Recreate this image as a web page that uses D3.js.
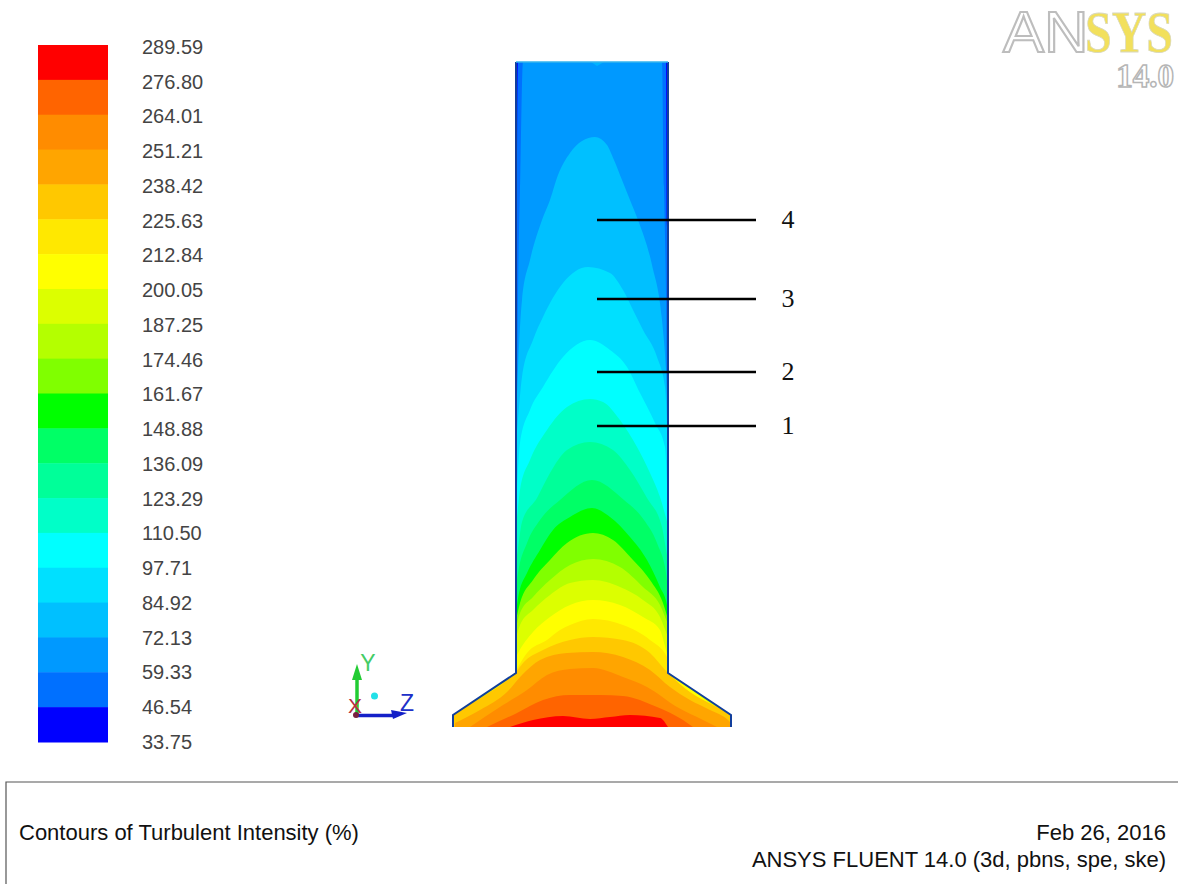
<!DOCTYPE html>
<html>
<head>
<meta charset="utf-8">
<script src="https://d3js.org/d3.v7.min.js"></script>
<style>
    html, body { margin: 0; padding: 0; background: #fff; }
    svg { display: block; }
    text { font-family: "Liberation Sans", Arial, sans-serif; }
</style>
</head>
<body>
<div id="chart-area"></div>
<script>
// legend, top to bottom
const legendLabels = ["289.59", "276.80", "264.01", "251.21", "238.42", "225.63", "212.84", "200.05", "187.25", "174.46", "161.67", "148.88", "136.09", "123.29", "110.50", "97.71", "84.92", "72.13", "59.33", "46.54", "33.75"];
const legendColors = ["#ff0000", "#ff6400", "#ff8c00", "#ffa500", "#ffc800", "#ffe800", "#ffff00", "#dcff00", "#b4ff00", "#80ff00", "#00ff00", "#00ff66", "#00ff99", "#00ffc8", "#00ffff", "#00e0ff", "#00c0ff", "#0099ff", "#0070ff", "#0000ff"];

// duct outline, [z, height above the outlet]
const duct = [[-139, 0], [-139, 12], [-76, 54], [-76, 665], [76, 665], [76, 54], [139, 12], [139, 0]];

// contour edges, [z, height], named by lower level
const band46 = [[-76, 250], [-75, 500], [-74, 665], [74, 665], [75, 500], [76, 250]];
const band59 = [[-76, 200], [-74, 430], [-72, 540], [-69, 665], [70, 665], [72, 540], [74, 430], [76, 200]];
const band72 = [[-76, 307], [-74, 357], [-70, 427], [-62, 467], [-50, 507], [-42, 527], [-34, 552], [-22, 574], [-10, 586], [3, 590], [15, 582], [22, 567], [30, 547], [38, 527], [46, 507], [60, 462], [70, 407], [74, 357], [76, 307]];
const band85 = [[-76, 287], [-70, 350], [-59, 387], [-49, 410], [-29, 444], [-4, 460], [18, 454], [31, 437], [41, 417], [51, 397], [65, 370], [73, 340], [76, 287]];
const band97 = [[-76, 227], [-72, 284], [-62, 317], [-49, 340], [-29, 370], [-2, 387], [18, 377], [35, 360], [48, 334], [63, 304], [73, 280], [76, 227]];
const band110 = [[-76, 202], [-72, 237], [-62, 267], [-45, 297], [-25, 320], [-2, 328], [11, 325], [28, 307], [45, 280], [58, 254], [68, 230], [76, 202]];
const band123 = [[-75, 172], [-70, 205], [-55, 229], [-42, 254], [-25, 277], [-2, 285], [21, 277], [38, 257], [55, 229], [70, 200], [75, 172]];
const band136 = [[-76, 140], [-74, 154], [-65, 184], [-52, 207], [-32, 227], [0, 247], [32, 227], [52, 207], [65, 184], [74, 154], [76, 140]];
const band148 = [[-76, 118], [-73, 134], [-65, 154], [-52, 177], [-39, 197], [-22, 210], [0, 219], [18, 210], [38, 190], [55, 167], [68, 140], [75, 122], [76, 115]];
const band161 = [[-76, 108], [-72, 124], [-59, 147], [-42, 167], [-25, 184], [1, 194], [21, 187], [41, 167], [58, 147], [71, 124], [76, 108]];
const band174 = [[-76, 100], [-72, 114], [-59, 130], [-42, 147], [-22, 162], [1, 168], [28, 160], [51, 140], [68, 122], [76, 103]];
const band187 = [[-76, 90], [-72, 102], [-59, 117], [-42, 132], [-22, 144], [1, 147], [28, 140], [51, 127], [68, 110], [76, 90]];
const band200 = [[-76, 70], [-74, 74], [-59, 95], [-42, 110], [-22, 122], [1, 127], [28, 122], [51, 110], [68, 97], [76, 72]];
const band212 = [[-78, 53], [-74, 60], [-65, 74], [-45, 87], [-32, 97], [-22, 102], [1, 108], [31, 102], [58, 87], [75, 70], [78, 53]];
const band225 = [[-105, 33], [-90, 43], [-76, 55], [-69, 64], [-49, 77], [-22, 87], [1, 90], [31, 87], [58, 74], [75, 55], [98, 35], [121, 22]];
const band238 = [[-137, 4], [-112, 17], [-85, 35], [-70, 52], [-52, 67], [-25, 74], [1, 75], [31, 70], [58, 57], [78, 40], [98, 27], [118, 17], [136, 7], [139, 4]];
const band251 = [[-122, 0], [-89, 22], [-65, 37], [-45, 52], [-22, 58], [1, 59], [31, 50], [55, 40], [85, 20], [111, 7], [125, 0]];
const band264 = [[-105, 0], [-75, 14], [-49, 27], [-22, 32], [8, 32], [31, 31], [65, 20], [91, 7], [101, 0]];
const band276 = [[-82, 0], [-59, 7], [-29, 11], [-2, 8], [18, 10], [38, 12], [68, 9], [76, 0]];
// bottom to top, same order as legendColors reversed (first colour is the duct fill)
const bands = [band46, band59, band72, band85, band97, band110, band123, band136, band148, band161, band174, band187, band200, band212, band225, band238, band251, band264, band276];

// the numbered leader lines: label and height
const leaderLabels = ["1", "2", "3", "4"];
const leaderHeights = [301, 355, 428, 507];

const titleLeft = "Contours of Turbulent Intensity (%)";
const titleRight = ["Feb 26, 2016", "ANSYS FLUENT 14.0 (3d, pbns, spe, ske)"];

const width = 1178;
const height = 884;

const svg = d3.select("#chart-area")
    .append("svg")
    .attr("width", width)
    .attr("height", height);

// legend
const legendY = d3.scaleLinear().domain([0, legendColors.length]).range([45, 742]);
svg.append("g")
    .selectAll("rect")
    .data(legendColors)
    .enter()
    .append("rect")
    .attr("x", 38)
    .attr("y", (d, i) => legendY(i))
    .attr("width", 70)
    .attr("height", (d, i) => legendY(i + 1) - legendY(i) + 0.5)
    .attr("fill", d => d);

const labelY = d3.scalePoint().domain(legendLabels).range([47, 742]);
const labelAxis = d3.axisRight(labelY).tickSize(0).tickPadding(0);
const labelG = svg.append("g")
    .attr("transform", "translate(142, 0)")
    .call(labelAxis);
labelG.select(".domain").remove();
labelG.selectAll("text")
    .attr("font-family", "'Liberation Sans', Arial, sans-serif")
    .attr("font-size", "20px")
    .attr("fill", "#444");

// contours
const x = d3.scaleLinear().domain([-139, 139]).range([453, 731]);
const y = d3.scaleLinear().domain([0, 665]).range([727, 62]);
const outline = d3.line().x(d => x(d[0])).y(d => y(d[1]));

svg.append("clipPath")
    .attr("id", "duct-clip")
    .append("path")
    .attr("d", outline(duct) + "Z");

const field = svg.append("g").attr("clip-path", "url(#duct-clip)");
field.append("path")
    .attr("d", outline(duct) + "Z")
    .attr("fill", legendColors[legendColors.length - 1]);

const bandArea = d3.area()
    .x(d => x(d[0]))
    .y0(y(0))
    .y1(d => y(d[1]))
    .curve(d3.curveMonotoneX);

field.selectAll("path.band")
    .data(bands)
    .enter()
    .append("path")
    .attr("class", "band")
    .attr("fill", (d, i) => legendColors[legendColors.length - 2 - i])
    .attr("d", d => {
        // edges that stop on the duct wall run down along it to the corner
        const row = d[0][1] > 13 ? [[-139, 13], ...d, [139, 13]] : d;
        return bandArea(row);
    });

// small notch of the next level at the top of the duct
field.append("path")
    .attr("d", "M" + x(-1) + "," + y(665) + "L" + x(5) + "," + y(661) + "L" + x(12) + "," + y(665) + "Z")
    .attr("fill", "#00b4ff");

// walls
svg.append("path")
    .attr("d", outline(duct.slice(0, 4)))
    .attr("fill", "none")
    .attr("stroke", "#123f9c")
    .attr("stroke-width", 2);
svg.append("path")
    .attr("d", outline(duct.slice(4)))
    .attr("fill", "none")
    .attr("stroke", "#123f9c")
    .attr("stroke-width", 2);
svg.append("path")
    .attr("d", outline(duct.slice(3, 5)))
    .attr("fill", "none")
    .attr("stroke", "#35b5ee")
    .attr("stroke-width", 1.5);

// leader lines
const leaders = svg.append("g")
    .selectAll("g")
    .data(leaderLabels)
    .enter()
    .append("g");
leaders.append("line")
    .attr("x1", 597)
    .attr("x2", 756)
    .attr("y1", (d, i) => y(leaderHeights[i]))
    .attr("y2", (d, i) => y(leaderHeights[i]))
    .attr("stroke", "#000")
    .attr("stroke-width", 2.5);
leaders.append("text")
    .attr("x", 788)
    .attr("y", (d, i) => y(leaderHeights[i]) + 8)
    .attr("text-anchor", "middle")
    .style("font-family", "'Liberation Serif', serif")
    .style("font-size", "26px")
    .attr("fill", "#111")
    .text(d => d);

// axis triad
const triad = svg.append("g");
triad.append("line").attr("x1", 357).attr("y1", 715).attr("x2", 357).attr("y2", 675)
    .attr("stroke", "#22cc33").attr("stroke-width", 3.5);
triad.append("path").attr("d", "M357,664L352,680L362,680Z").attr("fill", "#22cc33");
triad.append("line").attr("x1", 356).attr("y1", 715.5).attr("x2", 396).attr("y2", 715.5)
    .attr("stroke", "#1420c8").attr("stroke-width", 3.5);
triad.append("path").attr("d", "M407,713L391,710L393,719Z").attr("fill", "#1420c8");
triad.append("text").attr("x", 355).attr("y", 713).attr("text-anchor", "middle")
    .style("font-size", "21px").attr("fill", "#b83040").text("X");
triad.append("circle").attr("cx", 356).attr("cy", 715).attr("r", 3).attr("fill", "#7a2040");
triad.append("text").attr("x", 368).attr("y", 671).attr("text-anchor", "middle")
    .style("font-size", "23px").attr("fill", "#44cc66").text("Y");
triad.append("text").attr("x", 407).attr("y", 711).attr("text-anchor", "middle")
    .style("font-size", "23px").attr("fill", "#2030c8").text("Z");
triad.append("circle").attr("cx", 374.5).attr("cy", 696).attr("r", 3.5).attr("fill", "#22e0e8");

// logo
const logo = svg.append("g");
logo.append("text")
    .attr("transform", "translate(1003, 52) scale(1.08, 1)")
    .style("font-size", "57px")
    .attr("fill", "#fff").attr("stroke", "#bdbdbd").attr("stroke-width", 2)
    .text("AN");
logo.append("text")
    .attr("transform", "translate(1085, 52) scale(0.8, 1)")
    .style("font-family", "'Liberation Serif', serif")
    .style("font-weight", "bold")
    .style("font-size", "60px")
    .attr("fill", "#f2e05c").attr("stroke", "#d8d8c0").attr("stroke-width", 0.8)
    .text("SYS");
logo.append("text")
    .attr("x", 1174).attr("y", 87)
    .attr("text-anchor", "end")
    .style("font-family", "'Liberation Serif', serif")
    .style("font-weight", "bold")
    .style("font-size", "33px")
    .attr("fill", "#fff").attr("stroke", "#b5b5b5").attr("stroke-width", 1.5)
    .text("14.0");

// title box
svg.append("path")
    .attr("d", "M6,884V782H1178")
    .attr("fill", "none")
    .attr("stroke", "#555")
    .attr("stroke-width", 1.2);
svg.append("text")
    .attr("x", 19).attr("y", 840)
    .style("font-size", "22px").attr("fill", "#111")
    .text(titleLeft);
svg.append("g")
    .selectAll("text")
    .data(titleRight)
    .enter()
    .append("text")
    .attr("x", 1166)
    .attr("y", (d, i) => 840 + i * 27)
    .attr("text-anchor", "end")
    .style("font-size", "22px").attr("fill", "#111")
    .text(d => d);
</script>
</body>
</html>
